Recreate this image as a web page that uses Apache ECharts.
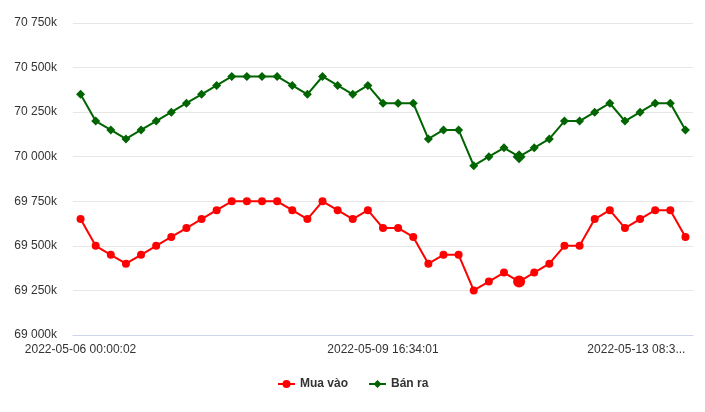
<!DOCTYPE html>
<html>
<head>
<meta charset="utf-8">
<script src="https://cdn.jsdelivr.net/npm/echarts@6/dist/echarts.min.js"></script>
<style>html,body{margin:0;padding:0;background:#fff}#c{width:705px;height:412px}</style>
</head>
<body>
<div id="c"></div>
<script>
// observation numbers along the x axis (41 observations)
const categories = ['1','2','3','4','5','6','7','8','9','10','11','12','13','14','15','16','17','18','19','20','21','22','23','24','25','26','27','28','29','30','31','32','33','34','35','36','37','38','39','40','41'];
// visible x tick labels and the observation they sit on
const tickIndex = [0, 20, 40];
const tickLabels = ['2022-05-06 00:00:02', '2022-05-09 16:34:01', '2022-05-13 08:3...'];
// values in thousands
const muaVao = [69650,69500,69450,69400,69450,69500,69550,69600,69650,69700,69750,69750,69750,69750,69700,69650,69750,69700,69650,69700,69600,69600,69550,69400,69450,69450,69250,69300,69350,69300,69350,69400,69500,69500,69650,69700,69600,69650,69700,69700,69550];
const banRa = [70350,70200,70150,70100,70150,70200,70250,70300,70350,70400,70450,70450,70450,70450,70400,70350,70450,70400,70350,70400,70300,70300,70300,70100,70150,70150,69950,70000,70050,70000,70050,70100,70200,70200,70250,70300,70200,70250,70300,70300,70150];
const seriesNames = ['Mua vào', 'Bán ra'];
const yMin = 69000, yMax = 70750, yStep = 250;
const highlighted = 29;

const font = '"Liberation Sans", Arial, sans-serif';
function fmtY(v) {
  const s = String(Math.round(v));
  return s.replace(/\B(?=(\d{3})+(?!\d))/g, ' ') + 'k';
}
const chart = echarts.init(document.getElementById('c'), null, {renderer: 'canvas'});
chart.setOption({
  animation: false,
  backgroundColor: '#fff',
  grid: {left: 73, right: 12, top: 23, bottom: 77, containLabel: false},
  legend: {
    left: 272, top: 373,
    itemWidth: 17, itemHeight: 10, itemGap: 20,
    textStyle: {fontFamily: font, fontSize: 12, fontWeight: 'bold', color: '#333'},
    data: seriesNames
  },
  xAxis: {
    type: 'category',
    data: categories,
    boundaryGap: true,
    axisLine: {show: true, lineStyle: {color: '#ccd6eb', width: 1}},
    axisTick: {show: false},
    axisLabel: {
      interval: function (i) { return tickIndex.indexOf(i) >= 0; },
      formatter: function (v, i) { const k = tickIndex.indexOf(i); return k >= 0 ? tickLabels[k] : ''; },
      fontFamily: font, fontSize: 12, color: '#333', margin: 9,
      alignMaxLabel: 'right'
    },
    splitLine: {show: false}
  },
  yAxis: {
    type: 'value',
    min: yMin, max: yMax, interval: yStep,
    axisLine: {show: false},
    axisTick: {show: false},
    axisLabel: {formatter: fmtY, fontFamily: font, fontSize: 12, color: '#333', margin: 16},
    splitLine: {lineStyle: {color: '#e6e6e6', width: 1}}
  },
  series: [
    {
      name: seriesNames[0], type: 'line', data: muaVao,
      symbol: 'circle',
      symbolSize: function (v, p) { return p.dataIndex === highlighted ? 12 : 8; },
      showAllSymbol: true,
      lineStyle: {color: '#ff0000', width: 2},
      itemStyle: {color: '#ff0000'}
    },
    {
      name: seriesNames[1], type: 'line', data: banRa,
      symbol: 'diamond',
      symbolSize: function (v, p) { return p.dataIndex === highlighted ? 13 : 9; },
      showAllSymbol: true,
      lineStyle: {color: '#006400', width: 2},
      itemStyle: {color: '#006400'}
    }
  ]
});
</script>
</body>
</html>
